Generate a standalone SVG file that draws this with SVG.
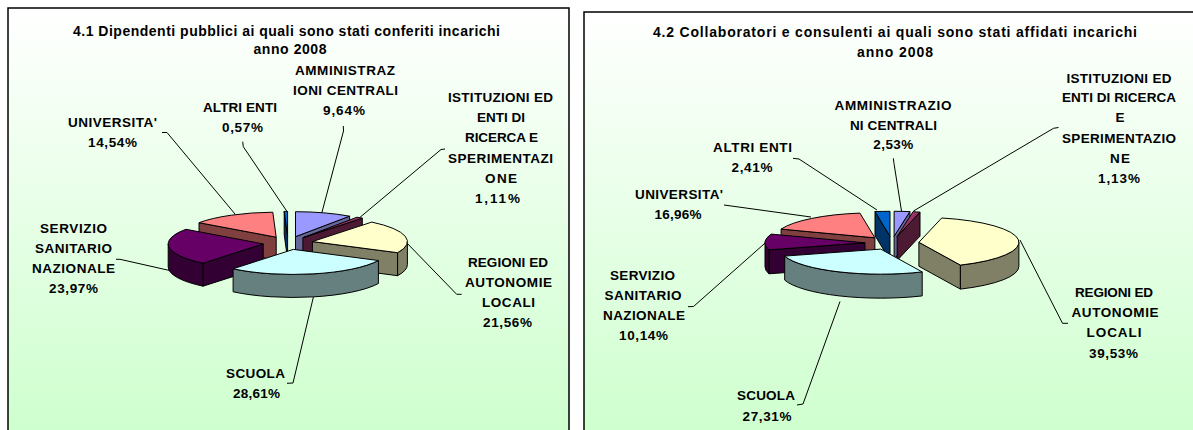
<svg xmlns="http://www.w3.org/2000/svg" width="1193" height="430" viewBox="0 0 1193 430">
<defs>
<linearGradient id="bg" x1="0" y1="0" x2="0" y2="1">
<stop offset="0" stop-color="#ffffff"/>
<stop offset="1" stop-color="#ccffcc"/>
</linearGradient>
<style>
.t{font-family:"Liberation Sans",Arial,sans-serif;font-weight:bold;font-size:13.5px;fill:#000;text-anchor:middle}
.ti{font-size:14px}
.ld{fill:none;stroke:#000;stroke-width:1}
.s{stroke:#000;stroke-width:1;stroke-linejoin:round}
.frame{fill:url(#bg);stroke:#000;stroke-width:1.5}
.ac{fill:#9999ff}.acs{fill:#666699}
.is{fill:#993366}.iss{fill:#4d1a33}
.rg{fill:#ffffcc}.rgs{fill:#808066}
.sc{fill:#ccffff}.scs{fill:#668080}
.ss{fill:#660066}.sss{fill:#330033}
.un{fill:#ff8080}.uns{fill:#804040}
.al{fill:#0066cc}.als{fill:#003366}
</style>
</defs>
<rect width="1193" height="430" fill="#ffffff"/>

<g id="panel1">
<rect class="frame" x="8" y="8" width="561" height="440"/>
<text class="t ti" x="286.5" y="36" textLength="427" lengthAdjust="spacing">4.1 Dipendenti pubblici ai quali sono stati conferiti incarichi</text>
<text class="t ti" x="290" y="54" textLength="73" lengthAdjust="spacing">anno 2008</text>
</g>
<g id="panel2">
<rect class="frame" x="584" y="12" width="640" height="440"/>
<text class="t ti" x="895" y="37" textLength="484" lengthAdjust="spacing">4.2 Collaboratori e consulenti ai quali sono stati affidati incarichi</text>
<text class="t ti" x="895" y="57" textLength="76" lengthAdjust="spacing">anno 2008</text>
</g>

<g id="connectors">
<polyline class="ld" points="162,132.5 167,132.5 235,214"/>
<polyline class="ld" points="242.7,141.7 243.3,146.7 287,211.5"/>
<polyline class="ld" points="343.3,126 343.5,131 321.5,214"/>
<polyline class="ld" points="445,149 441,149.5 358,219"/>
<polyline class="ld" points="116,259.3 120,259.3 175,271.7"/>
<polyline class="ld" points="287,383.3 293,383 313.5,296.5"/>
<polyline class="ld" points="461.7,294.3 456.7,294.3 403.3,239.3"/>
<polyline class="ld" points="893.3,158.3 894,163.5 901.5,211"/>
<polyline class="ld" points="793,158.3 799,159 877,210"/>
<polyline class="ld" points="724,205 811,217"/>
<polyline class="ld" points="1058.5,127.5 1053.5,128.3 913.5,211"/>
<polyline class="ld" points="688,306.7 693.5,306.5 768,240.5"/>
<polyline class="ld" points="797,405 803,404 840,301.5"/>
<polyline class="ld" points="1068,323.3 1062.5,323.3 1020,240"/>
</g>

<g id="p1-altri-enti">
<path class="s als" d="M287.6 236.4 L284.2 211.4 L284.2 234.4 L287.6 259.4 Z"/>
<path class="s al" d="M287.6 236.4 L284.2 211.4 A95 25 0 0 1 287.6 211.4 Z"/>
<text class="t" x="240" y="112" textLength="74" lengthAdjust="spacing">ALTRI ENTI</text>
<text class="t" x="242.5" y="131.7" textLength="41" lengthAdjust="spacing">0,57%</text>
</g>
<g id="p1-amministrazioni-centrali">
<path class="s acs" d="M295.5 236.7 L349.6 216.2 L349.6 239.2 L295.5 259.7 Z"/>
<path class="s ac" d="M295.5 236.7 L295.5 211.7 A95 25 0 0 1 349.6 216.2 Z"/>
<text class="t" x="345" y="75" textLength="100" lengthAdjust="spacing">AMMINISTRAZ</text>
<text class="t" x="345.5" y="95" textLength="105" lengthAdjust="spacing">IONI CENTRALI</text>
<text class="t" x="344" y="115" textLength="42" lengthAdjust="spacing">9,64%</text>
</g>
<g id="p1-universita">
<path class="s uns" d="M276.2 237.2 L199 222.7 L199 245.7 L276.2 260.2 Z"/>
<path class="s un" d="M276.2 237.2 L199 222.7 A95 25 0 0 1 272.8 212.2 Z"/>
<text class="t" x="112.5" y="126.7" textLength="89" lengthAdjust="spacing">UNIVERSITA'</text>
<text class="t" x="112.5" y="146.7" textLength="49" lengthAdjust="spacing">14,54%</text>
</g>
<g id="p1-istituzioni">
<path class="s iss" d="M302.9 237.7 L362.3 218.2 L362.3 241.2 L302.9 260.7 Z"/>
<path class="s is" d="M302.9 237.7 L357 217.2 A95 25 0 0 1 362.3 218.2 Z"/>
<text class="t" x="500.5" y="101.7" textLength="105" lengthAdjust="spacing">ISTITUZIONI ED</text>
<text class="t" x="501" y="121.7" textLength="48" lengthAdjust="spacing">ENTI DI</text>
<text class="t" x="501.5" y="141.7" textLength="73" lengthAdjust="spacing">RICERCA E</text>
<text class="t" x="500.5" y="162.7" textLength="105" lengthAdjust="spacing">SPERIMENTAZI</text>
<text class="t" x="501" y="182.7" textLength="32" lengthAdjust="spacing">ONE</text>
<text class="t" x="497.5" y="202.7" textLength="45" lengthAdjust="spacing">1,11%</text>
</g>
<g id="p1-regioni">
<path class="s rgs" d="M312.4 241.6 L397.6 252.7 L397.6 275.7 L312.4 264.6 Z"/>
<path class="s rgs" d="M407.4 241.6 A95 25 0 0 1 397.6 252.7 L397.6 275.7 A95 25 0 0 0 407.4 264.6 Z"/>
<path class="s rg" d="M312.4 241.6 L371.8 222.1 A95 25 0 0 1 397.6 252.7 Z"/>
<text class="t" x="508" y="266.7" textLength="80" lengthAdjust="spacing">REGIONI ED</text>
<text class="t" x="508.5" y="287.3" textLength="87" lengthAdjust="spacing">AUTONOMIE</text>
<text class="t" x="508.5" y="307.3" textLength="53" lengthAdjust="spacing">LOCALI</text>
<text class="t" x="507.5" y="327.3" textLength="49" lengthAdjust="spacing">21,56%</text>
</g>
<g id="p1-servizio-sanitario">
<path class="s sss" d="M263.2 243.9 L203 263.2 L203 286.2 L263.2 266.9 Z"/>
<path class="s sss" d="M203 263.2 A95 25 0 0 1 168.2 243.9 L168.2 266.9 A95 25 0 0 0 203 286.2 Z"/>
<path class="s ss" d="M263.2 243.9 L203 263.2 A95 25 0 0 1 186 229.3 Z"/>
<text class="t" x="73.5" y="233.3" textLength="67" lengthAdjust="spacing">SERVIZIO</text>
<text class="t" x="73.5" y="253.3" textLength="77" lengthAdjust="spacing">SANITARIO</text>
<text class="t" x="73.5" y="273.3" textLength="83" lengthAdjust="spacing">NAZIONALE</text>
<text class="t" x="73.5" y="292.7" textLength="49" lengthAdjust="spacing">23,97%</text>
</g>
<g id="p1-scuola">
<path class="s scs" d="M378.4 260.5 A95 25 0 0 1 233.1 268.8 L233.1 291.8 A95 25 0 0 0 378.4 283.5 Z"/>
<path class="s sc" d="M293.3 249.4 L378.4 260.5 A95 25 0 0 1 233.1 268.8 Z"/>
<text class="t" x="255.5" y="378.3" textLength="59" lengthAdjust="spacing">SCUOLA</text>
<text class="t" x="256.5" y="398.3" textLength="47" lengthAdjust="spacing">28,61%</text>
</g>

<g id="p2-altri-enti">
<path class="s als" d="M890 236.3 L875 211.6 L875 235.6 L890 260.3 Z"/>
<path class="s al" d="M890 236.3 L875 211.6 A100 25 0 0 1 890 211.3 Z"/>
<text class="t" x="752.5" y="151.7" textLength="79" lengthAdjust="spacing">ALTRI ENTI</text>
<text class="t" x="752" y="171.7" textLength="41" lengthAdjust="spacing">2,41%</text>
</g>
<g id="p2-amministrazioni-centrali">
<path class="s acs" d="M894.1 236.3 L909.9 211.6 L909.9 235.6 L894.1 260.3 Z"/>
<path class="s ac" d="M894.1 236.3 L894.1 211.3 A100 25 0 0 1 909.9 211.6 Z"/>
<text class="t" x="893" y="110" textLength="117" lengthAdjust="spacing">AMMINISTRAZIO</text>
<text class="t" x="893.4" y="129.5" textLength="87" lengthAdjust="spacing">NI CENTRALI</text>
<text class="t" x="893.3" y="148.5" textLength="40" lengthAdjust="spacing">2,53%</text>
</g>
<g id="p2-istituzioni">
<path class="s iss" d="M897.2 236.4 L920 212.1 L920 236.1 L897.2 260.4 Z"/>
<path class="s is" d="M897.2 236.4 L913 211.7 A100 25 0 0 1 920 212.1 Z"/>
<text class="t" x="1119" y="83.3" textLength="105" lengthAdjust="spacing">ISTITUZIONI ED</text>
<text class="t" x="1119" y="101.7" textLength="114" lengthAdjust="spacing">ENTI DI RICERCA</text>
<text class="t" x="1120" y="122.3">E</text>
<text class="t" x="1119" y="143.3" textLength="114" lengthAdjust="spacing">SPERIMENTAZIO</text>
<text class="t" x="1120" y="163.3" textLength="20" lengthAdjust="spacing">NE</text>
<text class="t" x="1119" y="183.3" textLength="42" lengthAdjust="spacing">1,13%</text>
</g>
<g id="p2-universita">
<path class="s uns" d="M874.9 237.8 L781.1 229.1 L781.1 253.1 L874.9 261.8 Z"/>
<path class="s un" d="M874.9 237.8 L781.1 229.1 A100 25 0 0 1 859.9 213.1 Z"/>
<text class="t" x="679" y="199.3" textLength="88" lengthAdjust="spacing">UNIVERSITA'</text>
<text class="t" x="678" y="218.5" textLength="47" lengthAdjust="spacing">16,96%</text>
</g>
<g id="p2-regioni">
<path class="s rgs" d="M918.9 242.3 L960.4 265.1 L960.4 289.1 L918.9 266.3 Z"/>
<path class="s rgs" d="M1018.9 242.3 A100 25 0 0 1 960.4 265.1 L960.4 289.1 A100 25 0 0 0 1018.9 266.3 Z"/>
<path class="s rg" d="M918.9 242.3 L941.7 218 A100 25 0 0 1 960.4 265.1 Z"/>
<text class="t" x="1114" y="296.7" textLength="78" lengthAdjust="spacing">REGIONI ED</text>
<text class="t" x="1115" y="316.7" textLength="87" lengthAdjust="spacing">AUTONOMIE</text>
<text class="t" x="1114" y="336.7" textLength="55" lengthAdjust="spacing">LOCALI</text>
<text class="t" x="1113.5" y="357.7" textLength="49" lengthAdjust="spacing">39,53%</text>
</g>
<g id="p2-servizio-sanitario">
<path class="s sss" d="M865 242.8 L769 249.8 L769 273.8 L865 266.8 Z"/>
<path class="s sss" d="M769 249.8 A100 25 0 0 1 765 242.8 L765 266.8 A100 25 0 0 0 769 273.8 Z"/>
<path class="s ss" d="M865 242.8 L769 249.8 A100 25 0 0 1 771.2 234.1 Z"/>
<text class="t" x="642.5" y="280" textLength="65" lengthAdjust="spacing">SERVIZIO</text>
<text class="t" x="643" y="300" textLength="77" lengthAdjust="spacing">SANITARIO</text>
<text class="t" x="644" y="320" textLength="82" lengthAdjust="spacing">NAZIONALE</text>
<text class="t" x="643.5" y="340" textLength="49" lengthAdjust="spacing">10,14%</text>
</g>
<g id="p2-scuola">
<path class="s scs" d="M922.2 271.9 A100 25 0 0 1 784.7 256.1 L784.7 280.1 A100 25 0 0 0 922.2 295.9 Z"/>
<path class="s sc" d="M880.7 249.1 L922.2 271.9 A100 25 0 0 1 784.7 256.1 Z"/>
<text class="t" x="766" y="399.5" textLength="58" lengthAdjust="spacing">SCUOLA</text>
<text class="t" x="767" y="420.5" textLength="49" lengthAdjust="spacing">27,31%</text>
</g>
</svg>
